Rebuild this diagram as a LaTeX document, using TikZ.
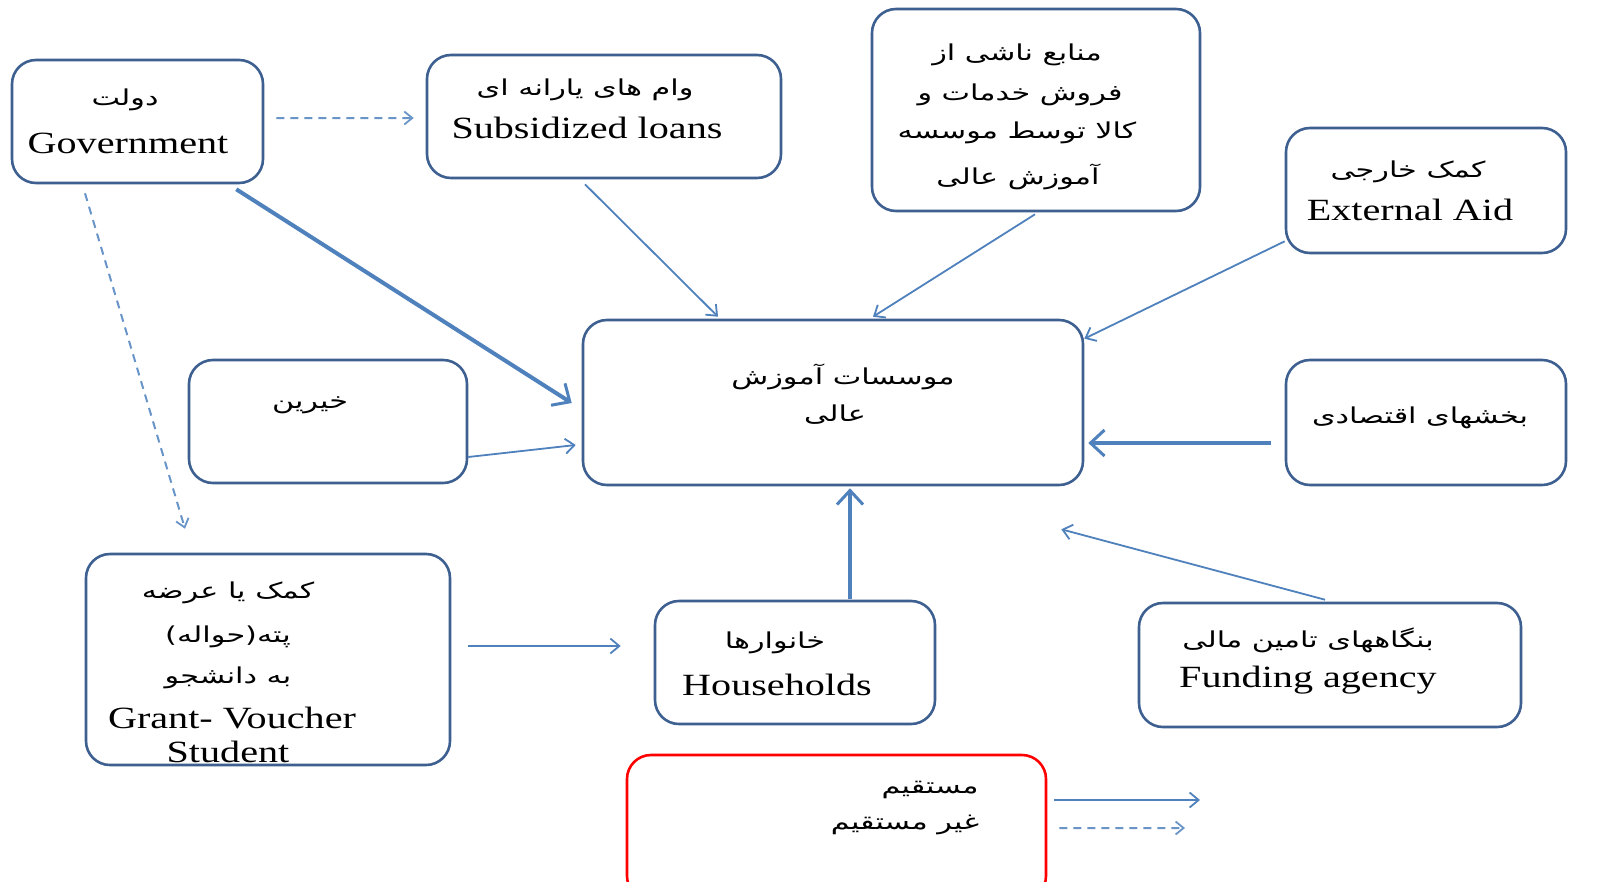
\documentclass[tikz,border=0pt]{standalone}
\usepackage{fontspec}
\setmainfont{Liberation Serif}
\newfontfamily\en[FakeStretch=1.3]{Liberation Serif}
\newfontfamily\fa[Script=Arabic,FakeStretch=1.38]{DejaVu Sans}
\TeXXeTstate=1
\usetikzlibrary{arrows.meta}
\definecolor{boxc}{RGB}{62,96,145}
\definecolor{arrc}{RGB}{79,129,189}
\newcommand\fat[1]{{\fa\fontsize{22}{26}\selectfont\beginR #1\endR}}
\newcommand\ent[1]{{\en\fontsize{31}{35}\selectfont #1}}
\tikzset{
  box/.style={draw=boxc, line width=2.6bp, rounded corners=24bp, inner sep=0pt},
  txt/.style={inner sep=0pt, anchor=center},
  thin/.style={draw=arrc, line width=1.8bp, -{Straight Barb[length=9bp,width=15bp,line width=1.8bp]}},
  thick/.style={draw=arrc, line width=4bp, -{Straight Barb[length=14bp,width=26bp,line width=3bp]}},
  dsh/.style={draw=arrc!85, line width=2bp, dash pattern=on 8bp off 6bp, -{Straight Barb[length=8bp,width=13bp,line width=1.8bp]}}
}
\begin{document}
\begin{tikzpicture}[x=1bp,y=-1bp]
\useasboundingbox (0,0) rectangle (1606,881);
\clip (0,0) rectangle (1606,881);
\fill[white] (0,0) rectangle (1606,881);
% boxes
\node[box, minimum width=251bp, minimum height=123bp] (gov) at (137.5,121.5) {};
\node[box, minimum width=354bp, minimum height=123bp] (sub) at (604,116.5) {};
\node[box, minimum width=328bp, minimum height=202bp] (src) at (1036,110) {};
\node[box, minimum width=280bp, minimum height=125bp] (ext) at (1426,190.5) {};
\node[box, minimum width=278bp, minimum height=123bp] (khe) at (328,421.5) {};
\node[box, minimum width=500bp, minimum height=165bp] (cen) at (833,402.5) {};
\node[box, minimum width=280bp, minimum height=125bp] (bak) at (1426,422.5) {};
\node[box, minimum width=364bp, minimum height=211bp] (gra) at (268,659.5) {};
\node[box, minimum width=280bp, minimum height=123bp] (hou) at (795,662.5) {};
\node[box, minimum width=382bp, minimum height=124bp] (fun) at (1330,665) {};
\node[box, draw=red, minimum width=419bp, minimum height=145bp] (leg) at (836.5,827.5) {};
% texts
\node[txt] (govfa) at (125,100) {\fat{دولت}};
\node[txt] (goven) at (128,143) {\ent{Government}};
\node[txt] (subfa) at (585,90) {\fat{وام های یارانه ای}};
\node[txt] (suben) at (587,128) {\ent{Subsidized loans}};
\node[txt] (src1) at (1017,55) {\fat{منابع ناشی از}};
\node[txt] (src2) at (1020,95) {\fat{فروش خدمات و}};
\node[txt] (src3) at (1017,133) {\fat{کالا توسط موسسه}};
\node[txt] (src4) at (1018,177) {\fat{آموزش عالی}};
\node[txt] (extfa) at (1408,172) {\fat{کمک خارجی}};
\node[txt] (exten) at (1410,210) {\ent{External Aid}};
\node[txt] (khefa) at (310,405) {\fat{خیرین}};
\node[txt] (cen1) at (843,377) {\fat{موسسات آموزش}};
\node[txt] (cen2) at (835,415) {\fat{عالی}};
\node[txt] (bakfa) at (1420,418) {\fat{بخشهای اقتصادی}};
\node[txt] (gra1) at (228,593) {\fat{کمک یا عرضه}};
\node[txt] (gra2) at (228,637) {\fat{پته(حواله)}};
\node[txt] (gra3) at (228,678) {\fat{به دانشجو}};
\node[txt] (gra4) at (232,718) {\ent{Grant- Voucher}};
\node[txt] (gra5) at (228,752) {\ent{Student}};
\node[txt] (houfa) at (775,643) {\fat{خانوارها}};
\node[txt] (houen) at (777,685) {\ent{Households}};
\node[txt] (funfa) at (1308,640) {\fat{بنگاههای تامین مالی}};
\node[txt] (funen) at (1308,680) {\ent{Funding agency}};
\node[txt] (leg1) at (930,790) {\fat{مستقیم}};
\node[txt] (leg2) at (905,825) {\fat{غیر مستقیم}};
% connectors
\draw[dsh] ([shift={(12,-3.5)}]gov.east) -- ([shift={(-12,1.5)}]sub.west);
\draw[thick] ([shift={(-28,5)}]gov.south east) -- ([shift={(-10,0.5)}]cen.west);
\draw[dsh] ([shift={(-52.5,9)}]gov.south) -- ([shift={(-83,-24)}]gra.north);
\draw[thin] ([shift={(-19,5)}]sub.south) -- ([shift={(-115,-2)}]cen.north);
\draw[thin] ([shift={(-1,2)}]src.south) -- ([shift={(40,-2)}]cen.north);
\draw[thin] ([shift={(0,-13)}]ext.south west) -- ([shift={(0,20)}]cen.north east);
\draw[thin] ([shift={(0,35.5)}]khe.east) -- ([shift={(-6,42.5)}]cen.west);
\draw[thick] ([shift={(-14,20.5)}]bak.west) -- ([shift={(4,40.5)}]cen.east);
\draw[thick] ([shift={(55,-1)}]hou.north) -- ([shift={(17,2)}]cen.south);
\draw[thin] ([shift={(-5,-2)}]fun.north) -- ([shift={(-23,43)}]cen.south east);
\draw[thin] ([shift={(17,-13.5)}]gra.east) -- ([shift={(-33,-16.5)}]hou.west);
\coordinate (lsol) at (1200,800);
\coordinate (ldsh) at (1185,828);
\draw[thin] ([shift={(7,-27.5)}]leg.east) -- (lsol);
\draw[dsh] ([shift={(12,0.5)}]leg.east) -- (ldsh);
\end{tikzpicture}
\end{document}
